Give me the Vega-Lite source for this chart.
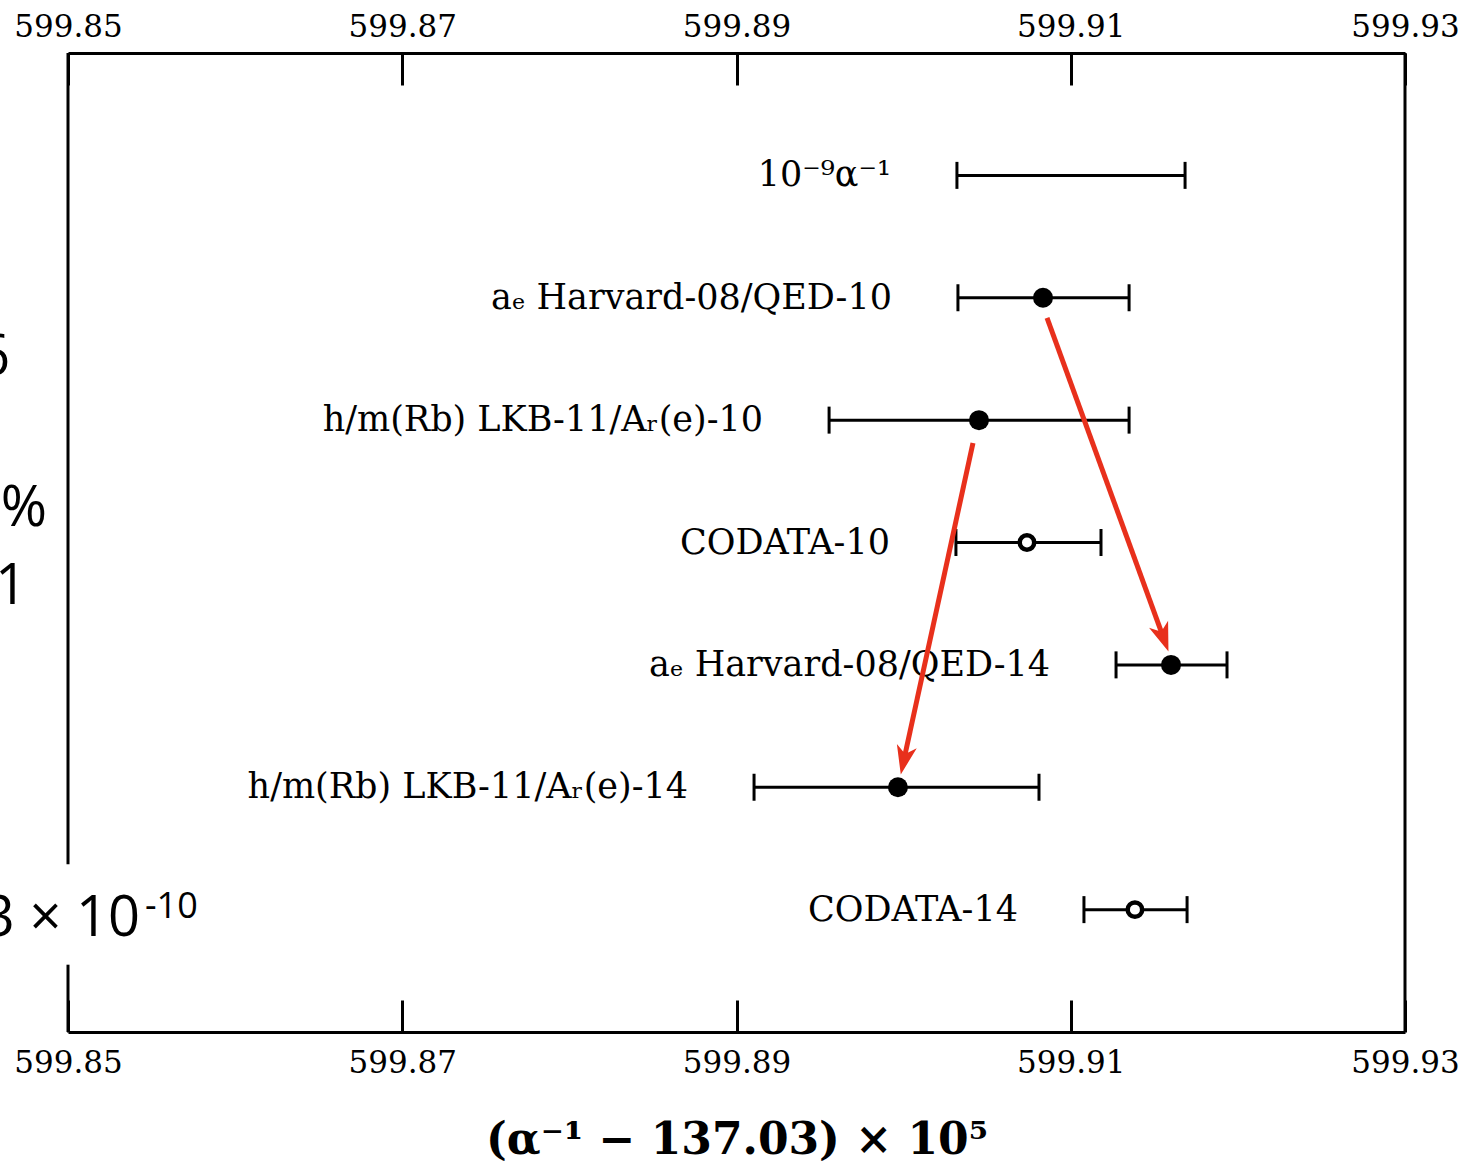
{
  "$schema": "https://vega.github.io/schema/vega-lite/v6.json",
  "width": 1337,
  "height": 979,
  "autosize": {"type": "none"},
  "padding": {"left": 68, "top": 53, "right": 54, "bottom": 137},
  "background": "white",
  "config": {"view": {"stroke": null}, "font": "DejaVu Serif"},
  "datasets": {
    "rows": [
      {"row": 1, "label": "10⁻⁹α⁻¹", "lo": 599.90319, "hi": 599.91684, "val": null, "kind": "none"},
      {"row": 2, "label": "aₑ Harvard-08/QED-10", "lo": 599.90325, "hi": 599.91349, "val": 599.90834, "kind": "filled"},
      {"row": 3, "label": "h/m(Rb) LKB-11/Aᵣ(e)-10", "lo": 599.89554, "hi": 599.91349, "val": 599.90451, "kind": "filled"},
      {"row": 4, "label": "CODATA-10", "lo": 599.90313, "hi": 599.91181, "val": 599.90738, "kind": "open"},
      {"row": 5, "label": "aₑ Harvard-08/QED-14", "lo": 599.91271, "hi": 599.91935, "val": 599.916, "kind": "filled"},
      {"row": 6, "label": "h/m(Rb) LKB-11/Aᵣ(e)-14", "lo": 599.89105, "hi": 599.9081, "val": 599.89966, "kind": "filled"},
      {"row": 7, "label": "CODATA-14", "lo": 599.91079, "hi": 599.91696, "val": 599.91384, "kind": "open"}
    ],
    "spines": [
      {"x": 599.85, "y": 0, "y2": 6.63},
      {"x": 599.85, "y": 7.45, "y2": 8},
      {"x": 599.93, "y": 0, "y2": 8}
    ],
    "arrows": [
      {"id": "a", "x1": 599.90858, "y1": 2.165, "x2": 599.91555, "y2": 4.779},
      {"id": "b", "x1": 599.90415, "y1": 3.187, "x2": 599.90001, "y2": 5.78}
    ],
    "fragments": [
      {"text": "6", "x": 599.84653, "y": 2.49},
      {"text": "%", "x": 599.84874, "y": 3.73},
      {"text": "1", "x": 599.84755, "y": 4.36},
      {"text": "3 × 10", "x": 599.854308, "y": 7.08}
    ],
    "sups": [
      {"text": "-10", "x": 599.854607, "y": 6.98}
    ]
  },
  "resolve": {"axis": {"x": "independent"}},
  "layer": [
    {
      "data": {"name": "spines"},
      "mark": {"type": "rule", "color": "black", "strokeWidth": 3},
      "encoding": {
        "x": {"field": "x", "type": "quantitative",
          "scale": {"domain": [599.85, 599.93], "nice": false, "zero": false},
          "axis": {"orient": "bottom", "values": [599.85, 599.87, 599.89, 599.91, 599.93], "format": ".2f",
            "tickSize": -32, "tickWidth": 3, "tickColor": "black", "domainWidth": 3, "domainColor": "black",
            "labelFont": "DejaVu Serif", "labelFontSize": 31, "labelColor": "black", "labelPadding": 48,
            "labelFlush": false, "labelOverlap": false, "grid": false,
            "title": "(α⁻¹ − 137.03) × 10⁵", "titleFont": "DejaVu Serif", "titleFontSize": 44,
            "titleFontWeight": "bold", "titleColor": "black", "titlePadding": 40}},
        "y": {"field": "y", "type": "quantitative", "scale": {"domain": [0, 8], "reverse": true, "nice": false, "zero": false}, "axis": null},
        "y2": {"field": "y2"}
      }
    },
    {
      "data": {"name": "rows"},
      "mark": {"type": "rule", "color": "black", "strokeWidth": 3},
      "encoding": {
        "x": {"field": "lo", "type": "quantitative",
          "axis": {"orient": "top", "values": [599.85, 599.87, 599.89, 599.91, 599.93], "format": ".2f",
            "tickSize": -32, "tickWidth": 3, "tickColor": "black", "domainWidth": 3, "domainColor": "black",
            "labelFont": "DejaVu Serif", "labelFontSize": 31, "labelColor": "black", "labelPadding": 42,
            "labelFlush": false, "labelOverlap": false, "grid": false, "title": null}},
        "x2": {"field": "hi"},
        "y": {"field": "row", "type": "quantitative", "axis": null}
      }
    },
    {
      "data": {"name": "rows"},
      "mark": {"type": "tick", "orient": "vertical", "color": "black", "size": 27, "thickness": 3, "opacity": 1},
      "encoding": {
        "x": {"field": "lo", "type": "quantitative", "axis": null},
        "y": {"field": "row", "type": "quantitative", "axis": null}
      }
    },
    {
      "data": {"name": "rows"},
      "mark": {"type": "tick", "orient": "vertical", "color": "black", "size": 27, "thickness": 3, "opacity": 1},
      "encoding": {
        "x": {"field": "hi", "type": "quantitative", "axis": null},
        "y": {"field": "row", "type": "quantitative", "axis": null}
      }
    },
    {
      "data": {"name": "rows"},
      "transform": [{"filter": "datum.kind === 'filled'"}],
      "mark": {"type": "point", "filled": true, "color": "black", "size": 400, "opacity": 1},
      "encoding": {
        "x": {"field": "val", "type": "quantitative", "axis": null},
        "y": {"field": "row", "type": "quantitative", "axis": null}
      }
    },
    {
      "data": {"name": "rows"},
      "transform": [{"filter": "datum.kind === 'open'"}],
      "mark": {"type": "point", "filled": false, "fill": "white", "fillOpacity": 1, "stroke": "black", "strokeWidth": 4.5, "size": 210, "opacity": 1},
      "encoding": {
        "x": {"field": "val", "type": "quantitative", "axis": null},
        "y": {"field": "row", "type": "quantitative", "axis": null}
      }
    },
    {
      "data": {"name": "rows"},
      "mark": {"type": "text", "align": "right", "baseline": "middle", "dx": -66, "font": "DejaVu Serif", "fontSize": 35, "color": "black"},
      "encoding": {
        "x": {"field": "lo", "type": "quantitative", "axis": null},
        "y": {"field": "row", "type": "quantitative", "axis": null},
        "text": {"field": "label"}
      }
    },
    {
      "data": {"name": "arrows"},
      "mark": {"type": "rule", "color": "#e8301c", "strokeWidth": 5},
      "encoding": {
        "x": {"field": "x1", "type": "quantitative", "axis": null},
        "x2": {"field": "x2"},
        "y": {"field": "y1", "type": "quantitative", "axis": null},
        "y2": {"field": "y2"}
      }
    },
    {
      "data": {"name": "arrows"},
      "transform": [{"filter": "datum.id === 'a'"}],
      "mark": {"type": "point", "shape": "M0,1L-0.7,-1L0,-0.45L0.7,-1Z", "filled": true, "color": "#e8301c", "size": 840, "angle": 340, "opacity": 1},
      "encoding": {
        "x": {"field": "x2", "type": "quantitative", "axis": null},
        "y": {"field": "y2", "type": "quantitative", "axis": null}
      }
    },
    {
      "data": {"name": "arrows"},
      "transform": [{"filter": "datum.id === 'b'"}],
      "mark": {"type": "point", "shape": "M0,1L-0.7,-1L0,-0.45L0.7,-1Z", "filled": true, "color": "#e8301c", "size": 840, "angle": 12, "opacity": 1},
      "encoding": {
        "x": {"field": "x2", "type": "quantitative", "axis": null},
        "y": {"field": "y2", "type": "quantitative", "axis": null}
      }
    },
    {
      "data": {"name": "fragments"},
      "mark": {"type": "text", "align": "right", "baseline": "middle", "font": "Open Sans", "fontSize": 56, "color": "black"},
      "encoding": {
        "x": {"field": "x", "type": "quantitative", "axis": null},
        "y": {"field": "y", "type": "quantitative", "axis": null},
        "text": {"field": "text"}
      }
    },
    {
      "data": {"name": "sups"},
      "mark": {"type": "text", "align": "left", "baseline": "middle", "font": "Open Sans", "fontSize": 36, "color": "black"},
      "encoding": {
        "x": {"field": "x", "type": "quantitative", "axis": null},
        "y": {"field": "y", "type": "quantitative", "axis": null},
        "text": {"field": "text"}
      }
    }
  ]
}
